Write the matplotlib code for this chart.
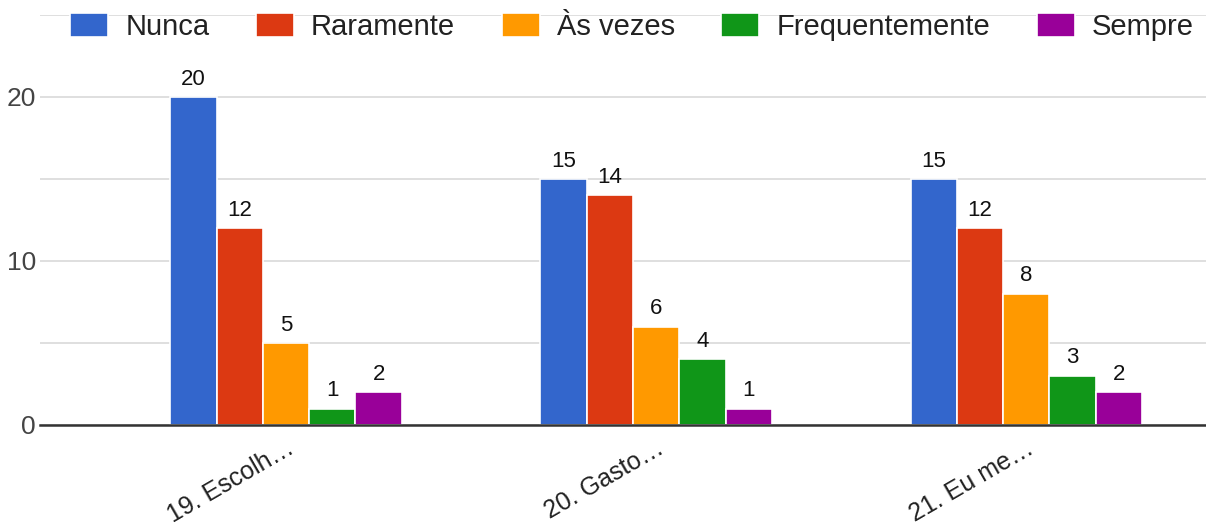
import matplotlib as mpl
mpl.use('Agg')
import matplotlib.pyplot as plt
import numpy as np

# Data
categories = ["19. Escolh…", "20. Gasto…", "21. Eu me…"]
series_names = ["Nunca", "Raramente", "Às vezes", "Frequentemente", "Sempre"]
nunca = [20, 15, 15]
raramente = [12, 14, 12]
as_vezes = [5, 6, 8]
frequentemente = [1, 4, 3]
sempre = [2, 1, 2]
series_values = [nunca, raramente, as_vezes, frequentemente, sempre]
colors = ["#3366cc", "#dc3912", "#ff9900", "#109618", "#990099"]

plt.rcParams['font.family'] = ['Liberation Sans', 'DejaVu Sans']

fig = plt.figure(figsize=(12.06, 5.28), dpi=100, facecolor='w')
ax = fig.add_axes([40/1206, 1-425/528, 1-40/1206, (425-15)/528])

x = np.arange(len(categories))
width = 0.125
for i, (name, vals, col) in enumerate(zip(series_names, series_values, colors)):
    offs = (i - 2) * width
    bars = ax.bar(x + offs, vals, width, color=col, edgecolor='white', linewidth=1.2, label=name, zorder=3)
    for b, v in zip(bars, vals):
        ax.text(b.get_x() + b.get_width()/2, v + 0.45, str(v), ha='center', va='bottom', fontsize=16, color='#111111')

ax.set_xlim(-0.665, 2.486)
ax.set_ylim(0, 25)
ax.set_yticks([0, 5, 10, 15, 20, 25])
ax.set_yticklabels(["0", "", "10", "", "20", ""])
ax.tick_params(axis='y', length=0, pad=3, labelsize=19, labelcolor='#444444')
ax.grid(axis='y', color='#d9d9d9', linewidth=1.2, zorder=0)
for s in ['top', 'right', 'left']:
    ax.spines[s].set_visible(False)
ax.spines['bottom'].set_color('#333333')
ax.spines['bottom'].set_linewidth(1.8)
ax.spines['bottom'].set_zorder(4)

ax.set_xticks(x)
ax.set_xticklabels(categories, rotation=30, ha='right', rotation_mode='anchor', fontsize=18, color='#222222')
ax.tick_params(axis='x', length=0, pad=8)

fig.legend(loc='upper center', bbox_to_anchor=(0.524, 1.025), ncol=5, frameon=False, fontsize=21,
           handlelength=1.3, handleheight=0.86, columnspacing=1.6, handletextpad=0.58, labelcolor='#222222')

plt.savefig("out.png", dpi=100, facecolor='w')
